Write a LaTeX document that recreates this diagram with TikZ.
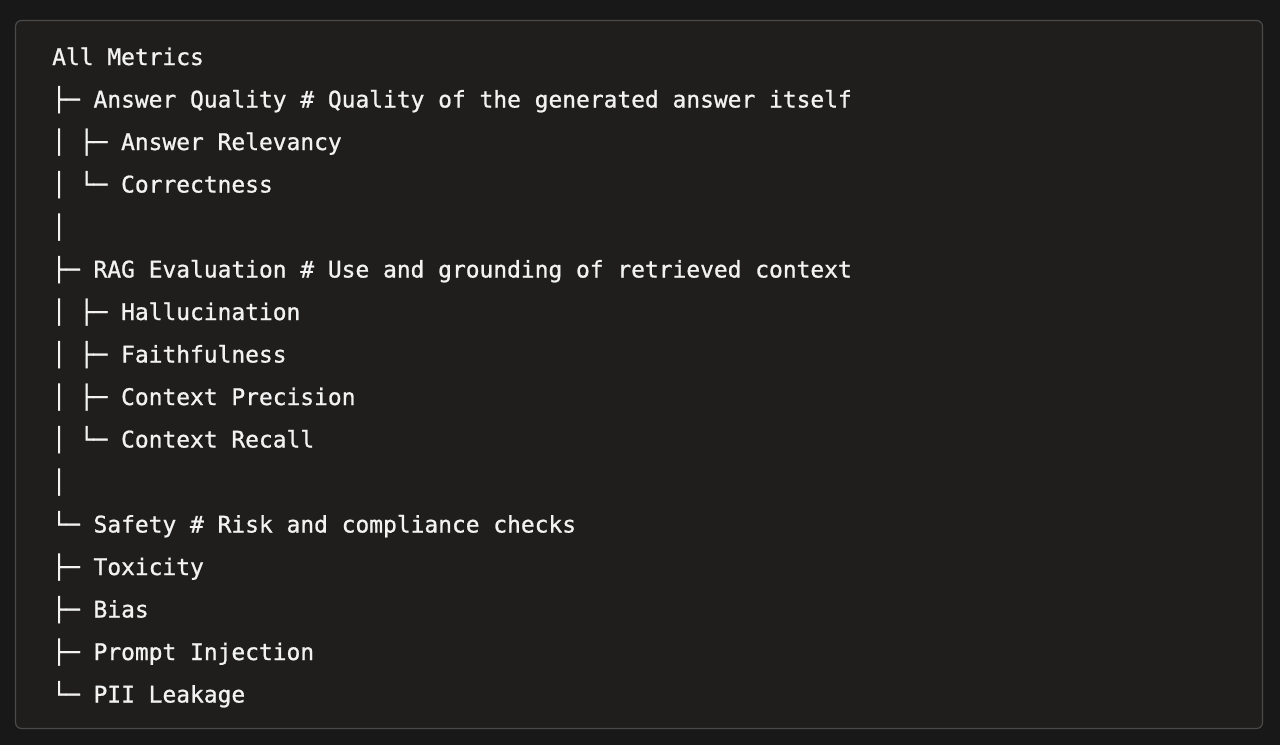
\documentclass[tikz,border=0pt]{standalone}
\usepackage{fontspec}
\setmonofont[FakeBold=1.0]{DejaVu Sans Mono}
\definecolor{outerbg}{HTML}{181818}
\definecolor{innerbg}{HTML}{1F1E1D}
\definecolor{boxline}{HTML}{4A4A4A}
\definecolor{txt}{HTML}{F2F2F2}
\begin{document}
\begin{tikzpicture}[x=1pt,y=-1pt,
  codeline/.style={anchor=base west,inner sep=0pt,text=txt,font=\ttfamily\fontsize{22.9}{23}\selectfont}]
\fill[outerbg] (0,0) rectangle (1280,745);
\useasboundingbox (0,0) rectangle (1280,745);
\draw[boxline,line width=1.2pt,fill=innerbg,rounded corners=6pt] (15.5,20.5) rectangle (1262.5,728.5);
\node[codeline] (l1) at (52,65.0) {All Metrics};
\node[codeline] (l2) at (52,107.5) {├─ Answer Quality \# Quality of the generated answer itself};
\node[codeline] (l3) at (52,150.0) {│ ├─ Answer Relevancy};
\node[codeline] (l4) at (52,192.5) {│ └─ Correctness};
\node[codeline] (l5) at (52,235.0) {│};
\node[codeline] (l6) at (52,277.5) {├─ RAG Evaluation \# Use and grounding of retrieved context};
\node[codeline] (l7) at (52,320.0) {│ ├─ Hallucination};
\node[codeline] (l8) at (52,362.5) {│ ├─ Faithfulness};
\node[codeline] (l9) at (52,405.0) {│ ├─ Context Precision};
\node[codeline] (l10) at (52,447.5) {│ └─ Context Recall};
\node[codeline] (l11) at (52,490.0) {│};
\node[codeline] (l12) at (52,532.5) {└─ Safety \# Risk and compliance checks};
\node[codeline] (l13) at (52,575.0) {├─ Toxicity};
\node[codeline] (l14) at (52,617.5) {├─ Bias};
\node[codeline] (l15) at (52,660.0) {├─ Prompt Injection};
\node[codeline] (l16) at (52,702.5) {└─ PII Leakage};
\end{tikzpicture}
\end{document}
